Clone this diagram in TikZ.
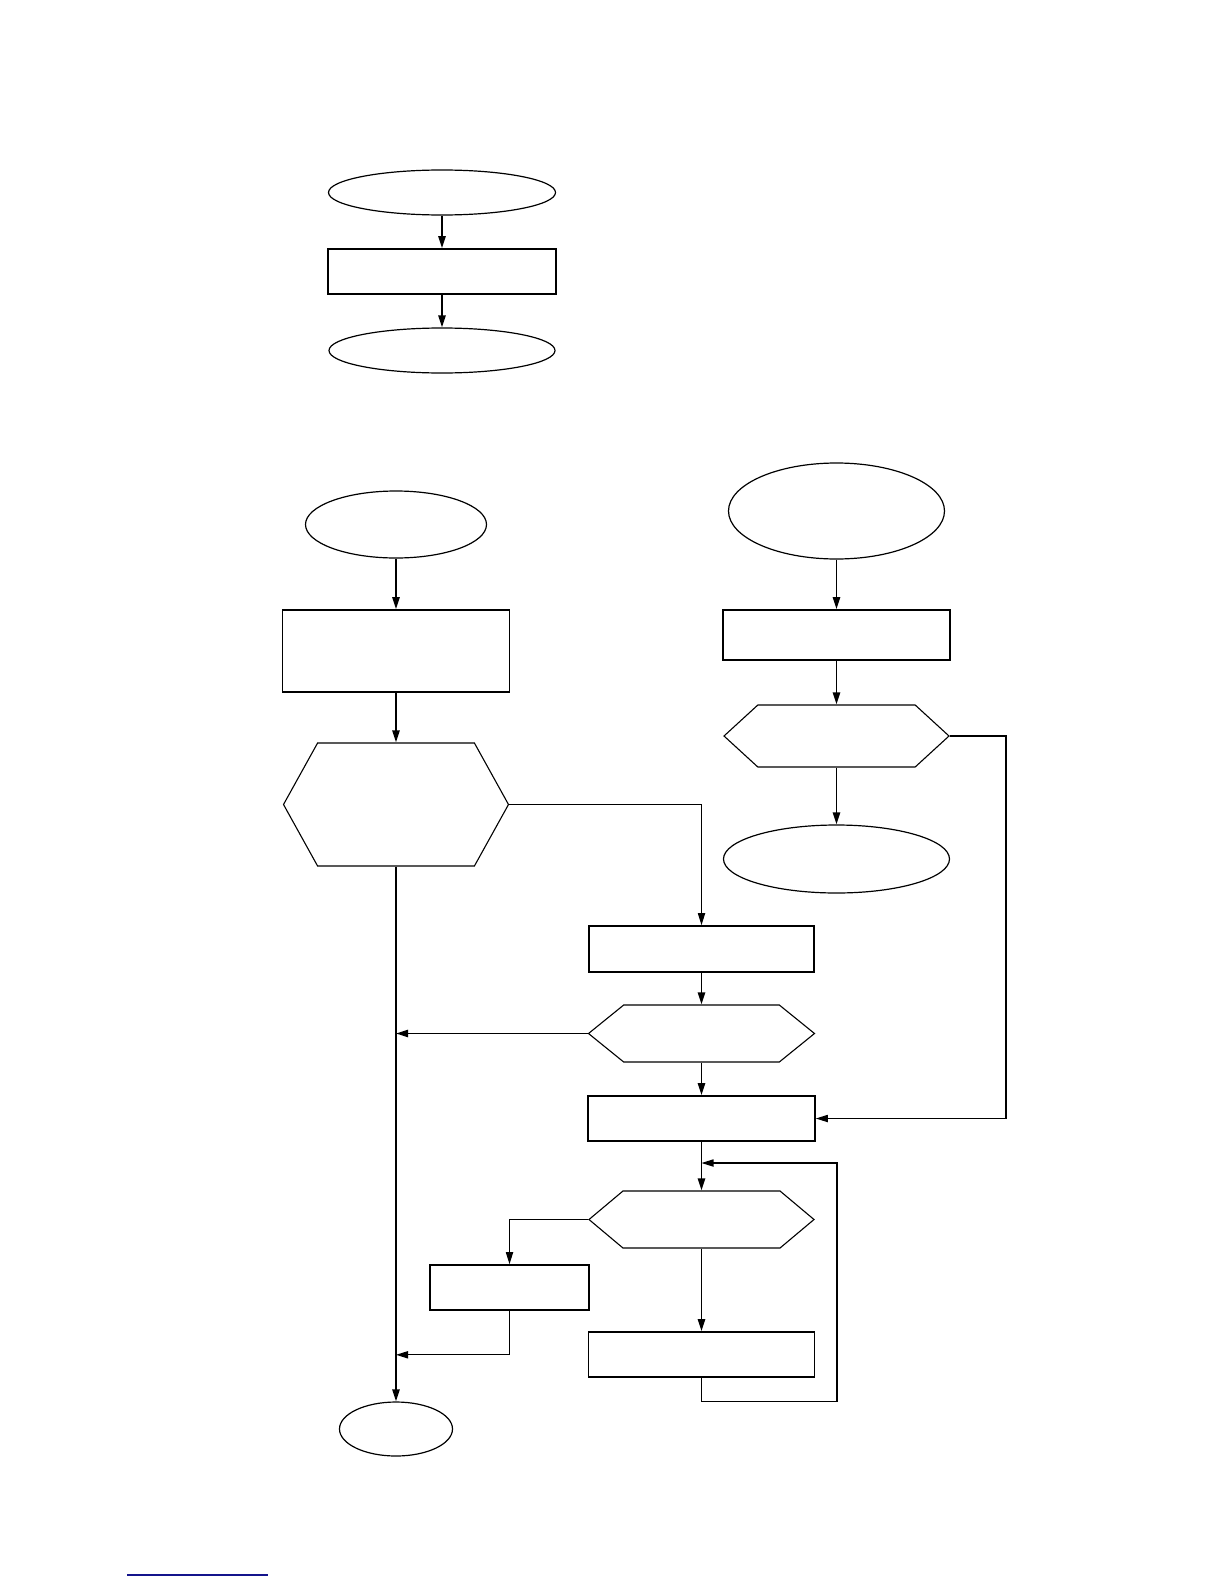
\documentclass[tikz,border=0pt]{standalone}
\usepackage{tikz}
\usetikzlibrary{arrows.meta, positioning, calc, shapes.geometric, shapes.symbols}
\definecolor{linkblue}{RGB}{20,20,140}

\tikzset{
  oval/.style={draw, ellipse, line width=0.6pt, inner sep=0pt},
  procbox/.style={draw, rectangle, line width=0.8pt, inner sep=0pt},
  hexbox/.style={draw, signal, signal to=east and west, line width=0.55pt, inner sep=0pt},
  arr/.style={-{Triangle[length=6pt,width=3.6pt]}, line width=0.9pt},
  thinarr/.style={-{Triangle[length=6pt,width=3.6pt]}, line width=0.55pt},
  thinline/.style={line width=0.55pt}
}

\begin{document}
\begin{tikzpicture}[x=0.5pt, y=-0.5pt]
  \useasboundingbox (0,0) rectangle (1224,1584);
  % small chain at the top
  \node[oval, minimum width=113.5pt, minimum height=22.5pt] (topstart) at (442,192.5) {};
  \node[procbox, minimum width=114pt, minimum height=22.5pt] (topbox) at (442,271.5) {};
  \node[oval, minimum width=113pt, minimum height=22.5pt] (topend) at (442,350.5) {};
  \draw[arr] (topstart) -- (topbox);
  \draw[arr] (topbox) -- (topend);

  % left column
  \node[oval, minimum width=90.5pt, minimum height=33.5pt] (start) at (396,524.5) {};
  \node[procbox, minimum width=113.5pt, minimum height=41pt] (init) at (396,651) {};
  \node[hexbox, minimum width=112.5pt, minimum height=61.5pt, signal pointer angle=122] (check) at (396,804.5) {};
  \node[oval, minimum width=56.5pt, minimum height=27pt] (finish) at (396,1429) {};

  % middle column
  \node[procbox, minimum width=112.5pt, minimum height=23pt] (prep) at (701.5,949) {};
  \node[hexbox, minimum width=113pt, minimum height=28.5pt, signal pointer angle=78] (test) at (701.5,1033.5) {};
  \node[procbox, minimum width=113.5pt, minimum height=22.5pt] (load) at (701.5,1118.5) {};
  \node[hexbox, minimum width=112.5pt, minimum height=28.5pt, signal pointer angle=80] (loop) at (701.5,1219.5) {};
  \node[procbox, minimum width=113pt, minimum height=22.5pt] (work) at (701.5,1354.5) {};
  \node[procbox, minimum width=79.5pt, minimum height=22.5pt] (side) at (509.5,1287.5) {};

  % right column
  \node[oval, minimum width=108pt, minimum height=48pt] (rstart) at (836.5,511) {};
  \node[procbox, minimum width=113.5pt, minimum height=25pt] (rbox) at (836.5,635) {};
  \node[hexbox, minimum width=112.5pt, minimum height=31pt, signal pointer angle=85] (rtest) at (836.5,736) {};
  \node[oval, minimum width=113pt, minimum height=34pt] (rend) at (836.5,859) {};

  \coordinate (rturn) at (1006,736);
  \coordinate (loopturn) at (837,1163);

  % connectors
  \draw[arr] (start) -- (init);
  \draw[arr] (init) -- (check);
  \draw[arr] (check.south) -- (finish.north);
  \draw[thinarr] (check.east) -| (prep.north);
  \draw[arr] (prep) -- (test);
  \draw[arr] (test.west) -- (check.south |- test.west);
  \draw[arr] (test) -- (load);
  \draw[arr] (load) -- (loop);
  \draw[arr] (loop) -- (work);
  \draw[thinarr] (work.south) -- ++(0,24) -| (loopturn) -- (load.south |- loopturn);
  \draw[thinarr] (loop.west) -| (side.north);
  \draw[thinarr] (side.south) |- ($(check.south |- side.south)+(0,44)$);
  \draw[arr] (rstart) -- (rbox);
  \draw[arr] (rbox) -- (rtest);
  \draw[arr] (rtest) -- (rend);
  \draw[thinarr] (rtest.east) -- (rturn) |- (load.east);

  % link underline
  \draw[linkblue, line width=0.8pt] (127,1575) -- (268,1575);
\end{tikzpicture}
\end{document}
